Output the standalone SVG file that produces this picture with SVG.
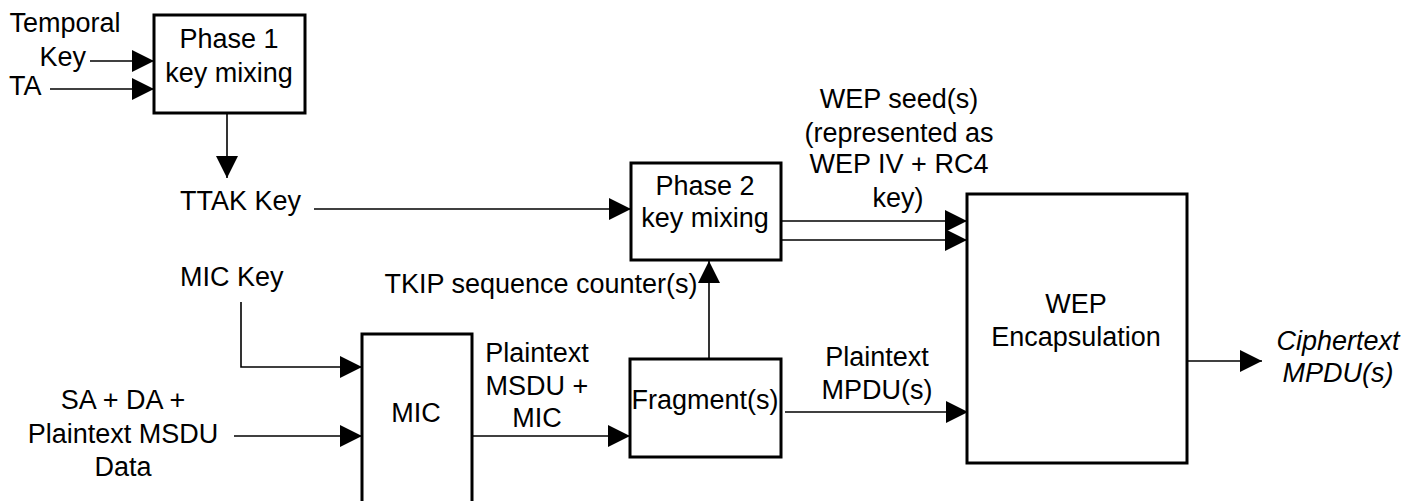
<svg xmlns="http://www.w3.org/2000/svg" width="1420" height="501" viewBox="0 0 1420 501">
<style>
.box{fill:#fff;stroke:#000;stroke-width:3}
.ln{fill:none;stroke:#000;stroke-width:1.6}
text{font-family:"Liberation Sans",Arial,sans-serif;font-size:27px;fill:#000}
.c{text-anchor:middle}
.e{text-anchor:end}
.i{font-style:italic}
</style>
<defs>
<marker id="ah" markerUnits="userSpaceOnUse" markerWidth="22" markerHeight="22" refX="22" refY="11" orient="auto">
<path d="M0,0 L22,11 L0,22 z" fill="#000"/>
</marker>
</defs>
<rect width="1420" height="501" fill="#fff"/>
<g id="connectors">
<line class="ln" x1="90" y1="61" x2="154" y2="61" marker-end="url(#ah)"/>
<line class="ln" x1="50" y1="89" x2="154" y2="89" marker-end="url(#ah)"/>
<line class="ln" x1="227" y1="113" x2="227" y2="178" marker-end="url(#ah)"/>
<line class="ln" x1="314" y1="209" x2="631" y2="209" marker-end="url(#ah)"/>
<line class="ln" x1="781" y1="221" x2="967" y2="221" marker-end="url(#ah)"/>
<line class="ln" x1="781" y1="240" x2="967" y2="240" marker-end="url(#ah)"/>
<polyline class="ln" points="241,302 241,367 362,367" marker-end="url(#ah)"/>
<line class="ln" x1="234" y1="436" x2="362" y2="436" marker-end="url(#ah)"/>
<line class="ln" x1="472" y1="436" x2="630" y2="436" marker-end="url(#ah)"/>
<line class="ln" x1="709" y1="359" x2="709" y2="261" marker-end="url(#ah)"/>
<line class="ln" x1="785" y1="412" x2="968" y2="412" marker-end="url(#ah)"/>
<line class="ln" x1="1187" y1="361" x2="1262" y2="361" marker-end="url(#ah)"/>
</g>
<g id="phase1">
<rect class="box" x="154" y="15" width="151" height="98"/>
<text class="c" x="229" y="48">Phase 1</text>
<text class="c" x="229" y="82">key mixing</text>
</g>
<g id="phase2">
<rect class="box" x="631" y="163" width="150" height="97"/>
<text class="c" x="705" y="195">Phase 2</text>
<text class="c" x="705" y="227">key mixing</text>
</g>
<g id="mic">
<rect class="box" x="362" y="334" width="110" height="190"/>
<text class="c" x="416" y="422">MIC</text>
</g>
<g id="fragment">
<rect class="box" x="630" y="359" width="151" height="98"/>
<text class="c" x="705" y="409">Fragment(s)</text>
</g>
<g id="wep">
<rect class="box" x="967" y="194" width="220" height="269"/>
<text class="c" x="1076" y="313">WEP</text>
<text class="c" x="1076" y="346">Encapsulation</text>
</g>
<g id="labels">
<text class="c" x="65" y="32">Temporal</text>
<text class="e" x="86" y="66">Key</text>
<text x="9" y="95">TA</text>
<text x="180" y="210">TTAK Key</text>
<text x="180" y="286">MIC Key</text>
<text class="c" x="541" y="293">TKIP sequence counter(s)</text>
<text class="c" x="899" y="108">WEP seed(s)</text>
<text class="c" x="899" y="142">(represented as</text>
<text class="c" x="899" y="173">WEP IV + RC4</text>
<text class="c" x="898" y="207">key)</text>
<text class="c" x="537" y="362">Plaintext</text>
<text class="c" x="537" y="395">MSDU +</text>
<text class="c" x="537" y="427">MIC</text>
<text class="c" x="877" y="366">Plaintext</text>
<text class="c" x="877" y="399">MPDU(s)</text>
<text class="c" x="123" y="409">SA + DA +</text>
<text class="c" x="123" y="443">Plaintext MSDU</text>
<text class="c" x="123" y="476">Data</text>
<text class="c i" x="1338" y="350">Ciphertext</text>
<text class="c i" x="1338" y="382">MPDU(s)</text>
</g>
</svg>
